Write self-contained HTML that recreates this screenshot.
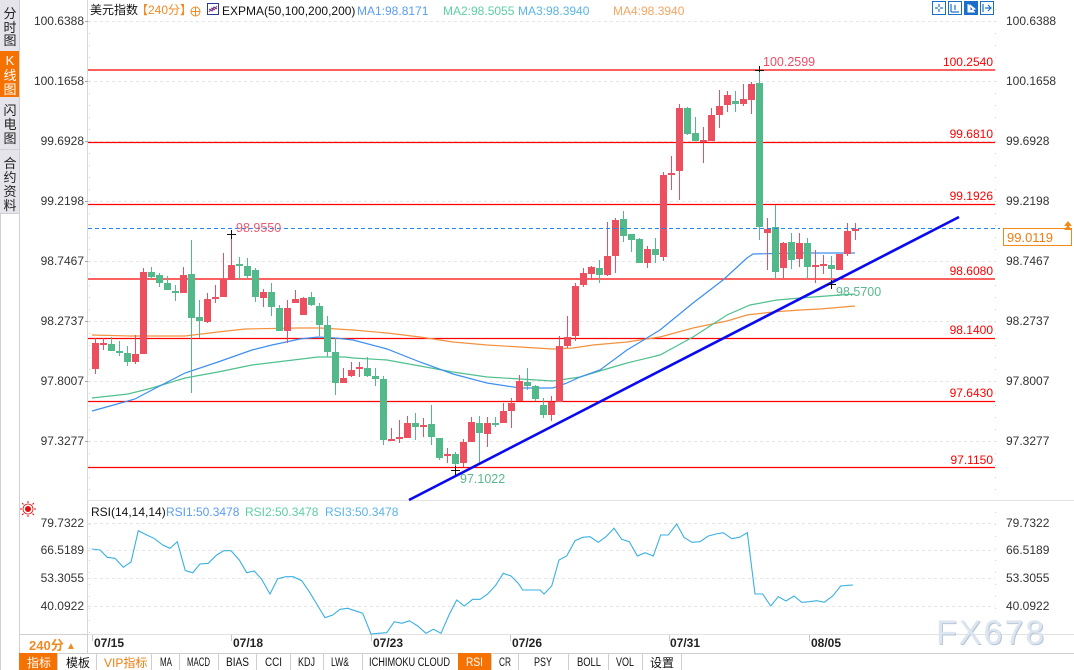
<!DOCTYPE html>
<html><head><meta charset="utf-8">
<style>
html,body{margin:0;padding:0;background:#fff;}
body{width:1074px;height:670px;overflow:hidden;position:relative;}
svg{position:absolute;left:0;top:0;}
text{font-family:"Liberation Sans","Noto Sans CJK SC",sans-serif;}
.r{fill:#ec4f5f}.g{fill:#52b98a}
.ax{font-size:12px;fill:#333}
.wm{position:absolute;left:936px;top:614px;font-family:"Liberation Sans",sans-serif;font-size:34px;color:#dce5f0;letter-spacing:2px;text-shadow:1px 1px 0 #b9c6d6;}
</style></head><body>
<svg width="1074" height="670" viewBox="0 0 1074 670" xmlns="http://www.w3.org/2000/svg">
<!-- sidebar -->
<rect x="0" y="0" width="19" height="213" fill="#e4e4ea"/>
<rect x="0" y="51" width="19" height="46" fill="#f67200"/>
<line x1="0" y1="149.5" x2="19" y2="149.5" stroke="#cfcfd6"/>
<line x1="0" y1="213.5" x2="19" y2="213.5" stroke="#cfcfd6"/>
<line x1="0.5" y1="213" x2="0.5" y2="670" stroke="#d0d0d0"/>
<line x1="19.5" y1="0" x2="19.5" y2="670" stroke="#d0d0d0"/>
<g font-size="13" text-anchor="middle" fill="#222">
<text x="10" y="18">分</text><text x="10" y="32">时</text><text x="10" y="45">图</text>
<text x="10" y="65" fill="#fff" font-family="Liberation Mono">K</text><text x="10" y="80" fill="#fff">线</text><text x="10" y="94" fill="#fff">图</text>
<text x="10" y="115">闪</text><text x="10" y="129">电</text><text x="10" y="143">图</text>
<text x="10" y="168">合</text><text x="10" y="182">约</text><text x="10" y="196">资</text><text x="10" y="210">料</text>
</g>
<!-- axes lines -->
<line x1="87.5" y1="0" x2="87.5" y2="653" stroke="#d8d8d8"/>
<line x1="87" y1="500.5" x2="1074" y2="500.5" stroke="#e2e2e2"/>
<line x1="87" y1="634.5" x2="1074" y2="634.5" stroke="#e2e2e2"/>
<!-- grid dotted -->
<g stroke="#e6e6e6" stroke-dasharray="3,3">
<line x1="88" y1="21.5" x2="995" y2="21.5"/><line x1="88" y1="81.5" x2="995" y2="81.5"/>
<line x1="88" y1="141.5" x2="995" y2="141.5"/><line x1="88" y1="201.5" x2="995" y2="201.5"/>
<line x1="88" y1="261.5" x2="995" y2="261.5"/><line x1="88" y1="321.5" x2="995" y2="321.5"/>
<line x1="88" y1="381.5" x2="995" y2="381.5"/><line x1="88" y1="441.5" x2="995" y2="441.5"/>
<line x1="88" y1="523.5" x2="995" y2="523.5"/><line x1="88" y1="550.5" x2="995" y2="550.5"/>
<line x1="88" y1="578.5" x2="995" y2="578.5"/><line x1="88" y1="606.5" x2="995" y2="606.5"/>
</g>
<!-- axis minor ticks -->
<g stroke="#d0d0d0" stroke-dasharray="1,11">
<line x1="89.5" y1="9" x2="89.5" y2="500"/>
<line x1="995.5" y1="9" x2="995.5" y2="500"/>
<line x1="89.5" y1="512" x2="89.5" y2="634"/>
<line x1="995.5" y1="512" x2="995.5" y2="634"/>
</g>
<g stroke="#9ab" >
<line x1="85" y1="21.5" x2="88" y2="21.5"/><line x1="85" y1="81.5" x2="88" y2="81.5"/><line x1="85" y1="141.5" x2="88" y2="141.5"/><line x1="85" y1="201.5" x2="88" y2="201.5"/><line x1="85" y1="261.5" x2="88" y2="261.5"/><line x1="85" y1="321.5" x2="88" y2="321.5"/><line x1="85" y1="381.5" x2="88" y2="381.5"/><line x1="85" y1="441.5" x2="88" y2="441.5"/>
</g>
<!-- red horizontal lines -->
<g stroke="#ff0000" stroke-width="1.3">
<line x1="88" y1="70" x2="995" y2="70"/>
<line x1="88" y1="142.5" x2="995" y2="142.5"/>
<line x1="88" y1="204.5" x2="995" y2="204.5"/>
<line x1="88" y1="279" x2="995" y2="279"/>
<line x1="88" y1="338.5" x2="995" y2="338.5"/>
<line x1="88" y1="401.5" x2="995" y2="401.5"/>
<line x1="88" y1="467.5" x2="995" y2="467.5"/>
</g>
<!-- MA lines -->
<polyline fill="none" stroke="#f2913e" stroke-width="1.2" points="92,335 130,336 185,336 218,332 245,329 298,328 320,328 353,330 387,333 420,337 453,342 487,345 520,347 553,349 573,348 593,345 627,342 660,337 693,328 727,321 747,315 773,312 800,310 820,309 855,306"/>
<polyline fill="none" stroke="#4fc08e" stroke-width="1.2" points="92,398 128,394 152,388 185,378 218,372 252,365 285,361 318,357 345,357 353,358 387,360 420,366 453,372 487,377 520,379 553,381 580,377 603,370 627,363 660,355 693,337 727,315 750,305 777,300 800,298 840,295 855,294"/>
<polyline fill="none" stroke="#3c8ff0" stroke-width="1.2" points="92,411 110,406 135,399 152,390 185,373 218,362 252,350 272,345 300,339 318,337 335,338 353,340 387,349 420,362 453,374 487,383 520,388 553,388 567,383 580,377 600,370 627,350 660,330 693,303 723,280 747,258 753,254 800,253 855,253"/>
<!-- candles -->
<rect class="r" x="95" y="338" width="1" height="36"/><rect class="r" x="92" y="343" width="7" height="26"/>
<rect class="r" x="103" y="338" width="1" height="12"/><rect class="r" x="100" y="343" width="7" height="2"/>
<rect class="g" x="111" y="337" width="1" height="14"/><rect class="g" x="108" y="344" width="7" height="7"/>
<rect class="g" x="119" y="341" width="1" height="15"/><rect class="g" x="116" y="351" width="7" height="2"/>
<rect class="g" x="127" y="346" width="1" height="20"/><rect class="g" x="124" y="353" width="7" height="9"/>
<rect class="r" x="135" y="335" width="1" height="29"/><rect class="r" x="132" y="354" width="7" height="8"/>
<rect class="r" x="143" y="268" width="1" height="86"/><rect class="r" x="140" y="272" width="7" height="82"/>
<rect class="g" x="151" y="267" width="1" height="12"/><rect class="g" x="148" y="272" width="7" height="5"/>
<rect class="g" x="159" y="273" width="1" height="14"/><rect class="g" x="156" y="275" width="7" height="8"/>
<rect class="g" x="167" y="276" width="1" height="14"/><rect class="g" x="164" y="283" width="7" height="7"/>
<rect class="g" x="175" y="285" width="1" height="16"/><rect class="g" x="172" y="291" width="7" height="2"/>
<rect class="r" x="183" y="267" width="1" height="26"/><rect class="r" x="180" y="275" width="7" height="18"/>
<rect class="g" x="191" y="240" width="1" height="153"/><rect class="g" x="188" y="274" width="7" height="44"/>
<rect class="g" x="199" y="300" width="1" height="38"/><rect class="g" x="196" y="317" width="7" height="4"/>
<rect class="r" x="207" y="293" width="1" height="30"/><rect class="r" x="204" y="299" width="7" height="23"/>
<rect class="r" x="215" y="285" width="1" height="18"/><rect class="r" x="212" y="297" width="7" height="2"/>
<rect class="r" x="223" y="253" width="1" height="44"/><rect class="r" x="220" y="279" width="7" height="18"/>
<rect class="r" x="231" y="234" width="1" height="46"/><rect class="r" x="228" y="265" width="7" height="15"/>
<rect class="g" x="239" y="257" width="1" height="23"/><rect class="g" x="236" y="264" width="7" height="2"/>
<rect class="g" x="247" y="258" width="1" height="21"/><rect class="g" x="244" y="266" width="7" height="10"/>
<rect class="g" x="255" y="268" width="1" height="34"/><rect class="g" x="252" y="270" width="7" height="27"/>
<rect class="r" x="263" y="289" width="1" height="18"/><rect class="r" x="260" y="292" width="7" height="6"/>
<rect class="g" x="271" y="283" width="1" height="33"/><rect class="g" x="268" y="292" width="7" height="15"/>
<rect class="g" x="279" y="305" width="1" height="26"/><rect class="g" x="276" y="308" width="7" height="23"/>
<rect class="r" x="287" y="300" width="1" height="43"/><rect class="r" x="284" y="308" width="7" height="23"/>
<rect class="r" x="295" y="290" width="1" height="13"/><rect class="r" x="292" y="299" width="7" height="4"/>
<rect class="r" x="303" y="297" width="1" height="18"/><rect class="r" x="300" y="298" width="7" height="17"/>
<rect class="g" x="311" y="292" width="1" height="14"/><rect class="g" x="308" y="297" width="7" height="8"/>
<rect class="g" x="319" y="303" width="1" height="33"/><rect class="g" x="316" y="306" width="7" height="19"/>
<rect class="g" x="327" y="316" width="1" height="41"/><rect class="g" x="324" y="325" width="7" height="27"/>
<rect class="g" x="335" y="338" width="1" height="57"/><rect class="g" x="332" y="352" width="7" height="31"/>
<rect class="r" x="343" y="368" width="1" height="15"/><rect class="r" x="340" y="378" width="7" height="5"/>
<rect class="r" x="351" y="362" width="1" height="15"/><rect class="r" x="348" y="370" width="7" height="6"/>
<rect class="r" x="359" y="362" width="1" height="15"/><rect class="r" x="356" y="367" width="7" height="2"/>
<rect class="g" x="367" y="357" width="1" height="20"/><rect class="g" x="364" y="368" width="7" height="8"/>
<rect class="g" x="375" y="368" width="1" height="18"/><rect class="g" x="372" y="376" width="7" height="3"/>
<rect class="g" x="383" y="376" width="1" height="69"/><rect class="g" x="380" y="379" width="7" height="61"/>
<rect class="r" x="391" y="428" width="1" height="13"/><rect class="r" x="388" y="439" width="7" height="2"/>
<rect class="r" x="399" y="420" width="1" height="23"/><rect class="r" x="396" y="437" width="7" height="2"/>
<rect class="r" x="407" y="416" width="1" height="22"/><rect class="r" x="404" y="423" width="7" height="15"/>
<rect class="g" x="415" y="413" width="1" height="27"/><rect class="g" x="412" y="423" width="7" height="4"/>
<rect class="r" x="423" y="418" width="1" height="19"/><rect class="r" x="420" y="425" width="7" height="2"/>
<rect class="g" x="431" y="405" width="1" height="40"/><rect class="g" x="428" y="424" width="7" height="13"/>
<rect class="g" x="439" y="438" width="1" height="22"/><rect class="g" x="436" y="438" width="7" height="20"/>
<rect class="r" x="447" y="448" width="1" height="15"/><rect class="r" x="444" y="454" width="7" height="2"/>
<rect class="g" x="455" y="452" width="1" height="18"/><rect class="g" x="452" y="454" width="7" height="10"/>
<rect class="r" x="463" y="439" width="1" height="28"/><rect class="r" x="460" y="442" width="7" height="21"/>
<rect class="r" x="471" y="417" width="1" height="25"/><rect class="r" x="468" y="422" width="7" height="20"/>
<rect class="g" x="479" y="416" width="1" height="49"/><rect class="g" x="476" y="423" width="7" height="10"/>
<rect class="r" x="487" y="417" width="1" height="30"/><rect class="r" x="484" y="423" width="7" height="11"/>
<rect class="g" x="495" y="417" width="1" height="10"/><rect class="g" x="492" y="423" width="7" height="2"/>
<rect class="r" x="503" y="403" width="1" height="20"/><rect class="r" x="500" y="411" width="7" height="12"/>
<rect class="r" x="511" y="398" width="1" height="30"/><rect class="r" x="508" y="403" width="7" height="8"/>
<rect class="r" x="519" y="375" width="1" height="26"/><rect class="r" x="516" y="381" width="7" height="20"/>
<rect class="g" x="527" y="368" width="1" height="22"/><rect class="g" x="524" y="382" width="7" height="4"/>
<rect class="g" x="535" y="385" width="1" height="16"/><rect class="g" x="532" y="386" width="7" height="13"/>
<rect class="g" x="543" y="398" width="1" height="20"/><rect class="g" x="540" y="405" width="7" height="10"/>
<rect class="r" x="551" y="396" width="1" height="25"/><rect class="r" x="548" y="402" width="7" height="13"/>
<rect class="r" x="559" y="336" width="1" height="66"/><rect class="r" x="556" y="346" width="7" height="56"/>
<rect class="r" x="567" y="316" width="1" height="32"/><rect class="r" x="564" y="337" width="7" height="9"/>
<rect class="r" x="575" y="283" width="1" height="58"/><rect class="r" x="572" y="286" width="7" height="50"/>
<rect class="r" x="583" y="268" width="1" height="19"/><rect class="r" x="580" y="273" width="7" height="12"/>
<rect class="r" x="591" y="266" width="1" height="13"/><rect class="r" x="588" y="267" width="7" height="7"/>
<rect class="g" x="599" y="260" width="1" height="23"/><rect class="g" x="596" y="268" width="7" height="7"/>
<rect class="r" x="607" y="222" width="1" height="54"/><rect class="r" x="604" y="256" width="7" height="19"/>
<rect class="r" x="615" y="218" width="1" height="55"/><rect class="r" x="612" y="220" width="7" height="36"/>
<rect class="g" x="623" y="211" width="1" height="31"/><rect class="g" x="620" y="219" width="7" height="17"/>
<rect class="g" x="631" y="234" width="1" height="18"/><rect class="g" x="628" y="234" width="7" height="6"/>
<rect class="g" x="639" y="238" width="1" height="25"/><rect class="g" x="636" y="239" width="7" height="24"/>
<rect class="r" x="647" y="246" width="1" height="22"/><rect class="r" x="644" y="249" width="7" height="14"/>
<rect class="g" x="655" y="238" width="1" height="25"/><rect class="g" x="652" y="249" width="7" height="6"/>
<rect class="r" x="663" y="172" width="1" height="89"/><rect class="r" x="660" y="175" width="7" height="82"/>
<rect class="r" x="671" y="156" width="1" height="34"/><rect class="r" x="668" y="173" width="7" height="2"/>
<rect class="r" x="679" y="104" width="1" height="96"/><rect class="r" x="676" y="108" width="7" height="63"/>
<rect class="g" x="687" y="107" width="1" height="28"/><rect class="g" x="684" y="108" width="7" height="26"/>
<rect class="g" x="695" y="117" width="1" height="24"/><rect class="g" x="692" y="133" width="7" height="8"/>
<rect class="r" x="703" y="127" width="1" height="36"/><rect class="r" x="700" y="140" width="7" height="2"/>
<rect class="r" x="711" y="108" width="1" height="33"/><rect class="r" x="708" y="115" width="7" height="26"/>
<rect class="r" x="719" y="90" width="1" height="38"/><rect class="r" x="716" y="106" width="7" height="9"/>
<rect class="r" x="727" y="91" width="1" height="21"/><rect class="r" x="724" y="95" width="7" height="10"/>
<rect class="g" x="735" y="91" width="1" height="21"/><rect class="g" x="732" y="101" width="7" height="3"/>
<rect class="r" x="743" y="84" width="1" height="22"/><rect class="r" x="740" y="99" width="7" height="5"/>
<rect class="r" x="751" y="82" width="1" height="32"/><rect class="r" x="748" y="84" width="7" height="16"/>
<rect class="g" x="759" y="69" width="1" height="171"/><rect class="g" x="756" y="83" width="7" height="144"/>
<rect class="r" x="767" y="218" width="1" height="52"/><rect class="r" x="764" y="229" width="7" height="4"/>
<rect class="g" x="775" y="205" width="1" height="74"/><rect class="g" x="772" y="227" width="7" height="45"/>
<rect class="r" x="783" y="242" width="1" height="36"/><rect class="r" x="780" y="243" width="7" height="25"/>
<rect class="g" x="791" y="233" width="1" height="36"/><rect class="g" x="788" y="242" width="7" height="18"/>
<rect class="r" x="799" y="233" width="1" height="34"/><rect class="r" x="796" y="243" width="7" height="16"/>
<rect class="g" x="807" y="238" width="1" height="41"/><rect class="g" x="804" y="243" width="7" height="24"/>
<rect class="r" x="815" y="250" width="1" height="33"/><rect class="r" x="812" y="265" width="7" height="2"/>
<rect class="r" x="823" y="255" width="1" height="19"/><rect class="r" x="820" y="264" width="7" height="2"/>
<rect class="g" x="831" y="256" width="1" height="28"/><rect class="g" x="828" y="265" width="7" height="4"/>
<rect class="r" x="839" y="254" width="1" height="16"/><rect class="r" x="836" y="254" width="7" height="16"/>
<rect class="r" x="847" y="223" width="1" height="33"/><rect class="r" x="844" y="231" width="7" height="23"/>
<rect class="r" x="855" y="223" width="1" height="17"/><rect class="r" x="852" y="229" width="7" height="2"/>
<!-- current price dashed -->
<line x1="88" y1="228.5" x2="1000" y2="228.5" stroke="#1e88f0" stroke-width="1" stroke-dasharray="4,3"/>
<!-- trendline -->
<line x1="409" y1="500" x2="959" y2="217" stroke="#0a0af0" stroke-width="2.6"/>
<!-- crosshair markers -->
<g stroke="#111" stroke-width="1">
<line x1="227" y1="234.5" x2="236" y2="234.5"/><line x1="231.5" y1="230" x2="231.5" y2="239"/>
<line x1="755" y1="70.5" x2="764" y2="70.5"/><line x1="759.5" y1="66" x2="759.5" y2="72"/>
<line x1="451" y1="470.5" x2="460" y2="470.5"/><line x1="455.5" y1="466" x2="455.5" y2="475"/>
<line x1="827" y1="284.5" x2="836" y2="284.5"/><line x1="831.5" y1="280" x2="831.5" y2="289"/>
</g>
<!-- extreme labels -->
<g font-size="12.5">
<text x="763" y="66" fill="#ee4d66">100.2599</text>
<text x="236" y="232" fill="#ee5a70">98.9550</text>
<text x="460" y="483" fill="#5ab88c">97.1022</text>
<text x="836" y="296" fill="#5ab88c">98.5700</text>
</g>
<!-- red line labels -->
<g font-size="12" fill="#ff0000" text-anchor="end">
<text x="993" y="66">100.2540</text>
<text x="993" y="138">99.6810</text>
<text x="993" y="200">99.1926</text>
<text x="993" y="275">98.6080</text>
<text x="993" y="334">98.1400</text>
<text x="993" y="397">97.6430</text>
<text x="993" y="464">97.1150</text>
</g>
<!-- left axis labels -->
<g class="ax" text-anchor="end">
<text x="84" y="25">100.6388</text><text x="84" y="85">100.1658</text><text x="84" y="145">99.6928</text><text x="84" y="205">99.2198</text>
<text x="84" y="265">98.7467</text><text x="84" y="325">98.2737</text><text x="84" y="385">97.8007</text><text x="84" y="445">97.3277</text>
<text x="84" y="527">79.7322</text><text x="84" y="554">66.5189</text><text x="84" y="582">53.3055</text><text x="84" y="610">40.0922</text>
</g>
<!-- right axis labels -->
<g class="ax">
<text x="1006" y="25">100.6388</text><text x="1006" y="85">100.1658</text><text x="1006" y="145">99.6928</text><text x="1006" y="205">99.2198</text>
<text x="1006" y="265">98.7467</text><text x="1006" y="325">98.2737</text><text x="1006" y="385">97.8007</text><text x="1006" y="445">97.3277</text>
<text x="1006" y="527">79.7322</text><text x="1006" y="554">66.5189</text><text x="1006" y="582">53.3055</text><text x="1006" y="610">40.0922</text>
</g>
<!-- current price box -->
<rect x="1003.5" y="228.5" width="68" height="17" fill="#fff" stroke="#f28a1a"/>
<text x="1007" y="242" font-size="13" fill="#f07d10">99.0119</text>
<path d="M1064,226 L1068,221 L1072,226 Z M1064,230 L1068,225 L1072,230 Z" fill="#f28a1a"/>
<!-- header -->
<g font-size="12">
<text x="90" y="14" fill="#111">美元指数</text>
<text x="136" y="14" fill="#f08a24">【240分】</text>
<circle cx="195.5" cy="11.5" r="4.5" fill="none" stroke="#f08a24"/>
<line x1="191" y1="11.5" x2="200" y2="11.5" stroke="#f08a24"/><line x1="195.5" y1="7" x2="195.5" y2="16" stroke="#f08a24"/>
<rect x="207.5" y="3.5" width="11" height="11" fill="#fff" stroke="#2a3c8c"/>
<polyline points="209,12 212,8 214,10 217,6" fill="none" stroke="#e02020"/>
<polyline points="209,9 212,11 214,7 217,9" fill="none" stroke="#2040d0"/>
<text x="222" y="15" fill="#111">EXPMA(50,100,200,200)</text>
<text x="357" y="15" fill="#5a9cf0">MA1:98.8171</text>
<text x="443" y="15" fill="#5dcfa4">MA2:98.5055</text>
<text x="518" y="15" fill="#5ab6e6">MA3:98.3940</text>
<text x="613" y="15" fill="#f5a562">MA4:98.3940</text>
</g>
<!-- top right icons -->
<g stroke="#1a6fc8" fill="#fff">
<rect x="932.5" y="1.5" width="13" height="13"/>
<rect x="948.5" y="1.5" width="13" height="13"/>
<rect x="964.5" y="1.5" width="13" height="13" fill="#1a6fc8"/>
<rect x="980.5" y="1.5" width="13" height="13"/>
</g>
<g stroke="#1a6fc8" stroke-width="1.2" fill="none">
<line x1="939" y1="4" x2="939" y2="7"/><line x1="939" y1="9" x2="939" y2="12"/><line x1="935" y1="8" x2="938" y2="8"/><line x1="940" y1="8" x2="943" y2="8"/>
<line x1="951" y1="4" x2="951" y2="12"/><line x1="951" y1="12" x2="959" y2="12"/><line x1="955" y1="5" x2="955" y2="10"/>
<line x1="983" y1="4" x2="983" y2="12"/><path d="M985,8 L991,8 M988,5 L991,8 L988,11"/>
</g>
<path d="M968,4 L968,12 L975,12 M970,5 L975,9 L970,11 Z" stroke="#fff" fill="#fff" stroke-width="1"/>
<!-- RSI panel -->
<g transform="translate(28,509)">
<circle r="3" fill="#e01010"/>
<circle r="5" fill="none" stroke="#e01010" stroke-width="0.8"/>
<g stroke="#e01010" stroke-width="1"><line x1="0" y1="-8" x2="0" y2="-6"/><line x1="0" y1="6" x2="0" y2="8"/><line x1="-8" y1="0" x2="-6" y2="0"/><line x1="6" y1="0" x2="8" y2="0"/><line x1="-6" y1="-6" x2="-4.5" y2="-4.5"/><line x1="4.5" y1="4.5" x2="6" y2="6"/><line x1="6" y1="-6" x2="4.5" y2="-4.5"/><line x1="-6" y1="6" x2="-4.5" y2="4.5"/></g>
</g>
<g font-size="12">
<text x="91" y="516" fill="#111">RSI(14,14,14)</text>
<text x="166" y="516" fill="#5a9cf0">RSI1:50.3478</text>
<text x="245" y="516" fill="#5dcfa4">RSI2:50.3478</text>
<text x="325" y="516" fill="#5ab6e6">RSI3:50.3478</text>
</g>
<polyline fill="none" stroke="#3ab0e4" stroke-width="1.1" points="91.7,549 100,550 107.3,557.3 115,558.3 123.3,567.3 131,562 138.3,530.7 146.7,535 154,538.3 162.7,545 170,548.3 177.3,541.7 185.3,570.7 192.7,572.7 200,564 208.3,563.3 216.7,555 224,550.7 231,550.7 239.3,560 246.7,572.7 254.3,571 261.7,579.3 270,594 277.7,578.7 286,576.7 293.3,576.7 301.7,580.7 309.3,591.7 316.7,604 325,617.7 332.7,615 340,609.3 347.7,608.3 355,610.7 362.7,613.3 371,634 378.3,633.3 386.7,632.7 394.3,621.7 402,623.3 409.3,620.7 417.7,626 426,633.3 433.3,629.3 441,633.3 449,615 456.7,600 464.3,606 472.7,599.3 480,599.3 487.7,594 495.7,585.3 503.3,573.3 511,576 518.3,583.3 522.7,590 540,590 544,594 551.7,586 559,560 566.7,556 575,540.7 582.7,537.3 590,536.7 598.3,542.3 606,536.7 614,528.3 621.7,539.3 629.3,541.7 637.3,556 645,552.7 653.3,556 660.7,535 668.3,535 676.7,524 684,537.3 692,542.3 700,541.7 708.3,536 716,534 723.3,532.7 731.7,538.7 739.3,537.3 747.3,532.7 755,594 762.7,594 770.7,606 778.3,596.7 786,601 794,596 801.7,602.3 809.3,601.7 816.7,600.7 824.3,602.3 832.7,596 840.7,586 848.3,585.3 853,585"/>
<!-- date axis -->
<g stroke="#c8c8c8">
<line x1="92.5" y1="635" x2="92.5" y2="641"/><line x1="231.5" y1="635" x2="231.5" y2="641"/><line x1="371.5" y1="635" x2="371.5" y2="641"/><line x1="510.5" y1="635" x2="510.5" y2="641"/><line x1="669.5" y1="635" x2="669.5" y2="641"/><line x1="809.5" y1="635" x2="809.5" y2="641"/>
</g>
<g font-size="12" font-weight="bold" fill="#222">
<text x="94" y="647">07/15</text><text x="233" y="647">07/18</text><text x="373" y="647">07/23</text><text x="512" y="647">07/26</text><text x="670" y="647">07/31</text><text x="811" y="647">08/05</text>
</g>
<rect x="19.5" y="634.5" width="68" height="19" fill="#fff" stroke="#d0d0d0"/>
<text x="29" y="650" font-size="13" font-weight="bold" fill="#f08a24">240分</text>
<text x="66" y="649" font-size="10" fill="#f08a24">▲</text>
<!-- toolbar -->
<g stroke="#cfcfcf" fill="#fff">
<rect x="19.5" y="653.5" width="38" height="17" fill="#f67200" stroke="#f67200"/>
<rect x="57.5" y="653.5" width="39" height="17"/>
<rect x="96.5" y="653.5" width="55" height="17"/>
<rect x="151.5" y="653.5" width="28" height="17"/>
<rect x="179.5" y="653.5" width="39" height="17"/>
<rect x="218.5" y="653.5" width="38" height="17"/>
<rect x="256.5" y="653.5" width="34" height="17"/>
<rect x="290.5" y="653.5" width="33" height="17"/>
<rect x="323.5" y="653.5" width="39" height="17"/>
<rect x="362.5" y="653.5" width="96" height="17"/>
<rect x="458.5" y="653.5" width="33" height="17" fill="#f67200" stroke="#f67200"/>
<rect x="491.5" y="653.5" width="27" height="17"/>
<rect x="518.5" y="653.5" width="50" height="17"/>
<rect x="568.5" y="653.5" width="40" height="17"/>
<rect x="608.5" y="653.5" width="34" height="17"/>
<rect x="642.5" y="653.5" width="39" height="17"/>
<rect x="681.5" y="653.5" width="393" height="17"/>
</g>
<g font-size="12" fill="#111">
<text x="27" y="667" fill="#fff">指标</text>
<text x="66" y="667">模板</text>
<text x="104" y="667" fill="#f07d10" font-family="Liberation Mono,Noto Sans CJK SC,monospace">VIP<tspan font-family="Noto Sans CJK SC,sans-serif">指标</tspan></text>
<g font-family="Liberation Mono,monospace" font-size="11.5">
<text x="160" y="666" textLength="12" lengthAdjust="spacingAndGlyphs">MA</text>
<text x="187" y="666" textLength="23" lengthAdjust="spacingAndGlyphs">MACD</text>
<text x="226" y="666" textLength="23" lengthAdjust="spacingAndGlyphs">BIAS</text>
<text x="265" y="666" textLength="17" lengthAdjust="spacingAndGlyphs">CCI</text>
<text x="298" y="666" textLength="17" lengthAdjust="spacingAndGlyphs">KDJ</text>
<text x="331" y="666" textLength="18" lengthAdjust="spacingAndGlyphs">LW&amp;</text>
<text x="369" y="666" textLength="81" lengthAdjust="spacingAndGlyphs">ICHIMOKU CLOUD</text>
<text x="466" y="666" textLength="17" lengthAdjust="spacingAndGlyphs" fill="#fff">RSI</text>
<text x="499" y="666" textLength="12" lengthAdjust="spacingAndGlyphs">CR</text>
<text x="534" y="666" textLength="18" lengthAdjust="spacingAndGlyphs">PSY</text>
<text x="577" y="666" textLength="24" lengthAdjust="spacingAndGlyphs">BOLL</text>
<text x="616" y="666" textLength="18" lengthAdjust="spacingAndGlyphs">VOL</text>
</g>
<text x="650" y="667">设置</text>
</g>
</svg>
<div class="wm">FX678</div>
</body></html>
